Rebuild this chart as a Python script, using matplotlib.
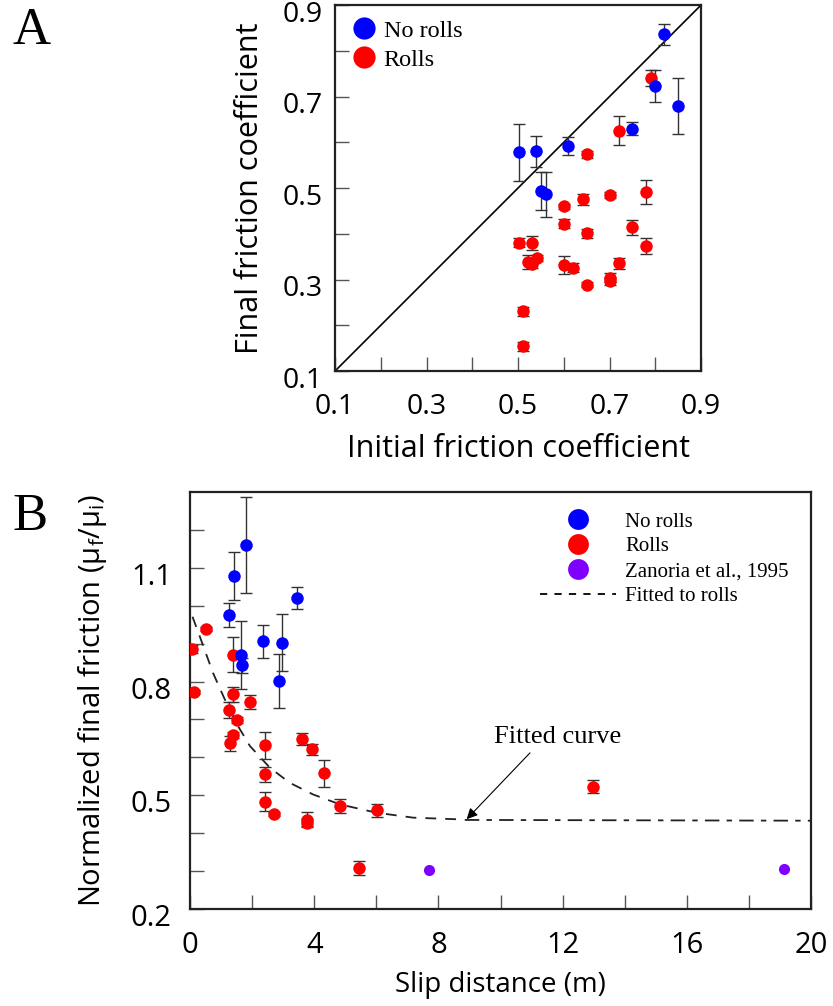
import numpy as np
import matplotlib.pyplot as plt
import matplotlib.transforms as mtransforms
from matplotlib.lines import Line2D

# ---- panel A data: initial vs final friction coefficient ----
a_norolls_x = [0.820, 0.800, 0.850, 0.750, 0.610, 0.501, 0.540, 0.550, 0.561]
a_norolls_y = [0.836, 0.723, 0.679, 0.630, 0.592, 0.578, 0.580, 0.493, 0.486]
a_norolls_err = [0.023, 0.035, 0.061, 0.015, 0.019, 0.063, 0.034, 0.042, 0.050]

a_rolls_x = [0.790, 0.720, 0.650, 0.700, 0.780, 0.641, 0.601, 0.601, 0.650, 0.750,
             0.780, 0.501, 0.531, 0.521, 0.531, 0.541, 0.601, 0.621, 0.720, 0.700,
             0.701, 0.650, 0.510, 0.510]
a_rolls_y = [0.740, 0.625, 0.574, 0.485, 0.491, 0.475, 0.460, 0.422, 0.401, 0.414,
             0.373, 0.380, 0.380, 0.339, 0.335, 0.347, 0.331, 0.326, 0.336, 0.304,
             0.296, 0.289, 0.231, 0.154]
a_rolls_err = [0.018, 0.032, 0.008, 0.006, 0.027, 0.012, 0.005, 0.010, 0.010, 0.016,
               0.018, 0.010, 0.016, 0.015, 0.010, 0.006, 0.020, 0.010, 0.012, 0.010,
               0.008, 0.005, 0.010, 0.010]

# ---- panel B data: normalized friction vs slip distance ----
b_norolls_x = [1.79, 1.42, 1.26, 1.64, 1.68, 2.34, 2.97, 2.85, 3.46]
b_norolls_y = [1.161, 1.078, 0.975, 0.871, 0.843, 0.906, 0.902, 0.801, 1.021]
b_norolls_err = [0.127, 0.064, 0.031, 0.090, 0.020, 0.044, 0.075, 0.071, 0.029]

b_rolls_x = [0.08, 0.53, 0.12, 1.37, 1.37, 1.93, 1.26, 1.50, 1.37, 1.28, 2.41, 2.41,
             2.41, 2.70, 3.62, 3.93, 4.32, 3.78, 3.78, 4.83, 6.03, 5.44, 12.98]
b_rolls_y = [0.886, 0.939, 0.772, 0.871, 0.766, 0.746, 0.725, 0.698, 0.659, 0.637,
             0.632, 0.555, 0.483, 0.450, 0.649, 0.621, 0.558, 0.436, 0.428, 0.472,
             0.461, 0.309, 0.523]
b_rolls_err = [0.010, 0.005, 0.005, 0.046, 0.020, 0.018, 0.020, 0.008, 0.008, 0.020,
               0.035, 0.020, 0.025, 0.005, 0.015, 0.015, 0.036, 0.020, 0.010, 0.018,
               0.017, 0.018, 0.018]

b_zanoria_x = [7.69, 19.13]
b_zanoria_y = [0.303, 0.306]

# fitted curve
fit_x = [0.08, 0.31, 0.74, 1.12, 1.55, 1.93, 2.57, 3.21, 3.97, 4.83, 6.01, 7.19, 8.85]
fit_y = [0.971, 0.92, 0.823, 0.753, 0.682, 0.630, 0.573, 0.533, 0.502, 0.476, 0.454, 0.441, 0.436]
fit_tail_x = [8.85, 20.0]
fit_tail_y = [0.435, 0.433]

BLUE = '#0000ff'
RED = '#ff0000'
PURPLE = '#8000ff'
SANS = ['Open Sans', 'DejaVu Sans']
SERIF = ['Liberation Serif', 'DejaVu Serif']

plt.rcParams['font.family'] = SANS
plt.rcParams['axes.linewidth'] = 1.6
plt.rcParams['axes.edgecolor'] = '#222222'

fig = plt.figure(figsize=(8.33, 10.06), dpi=100)


def style_axes(ax, size, xpad, ypad):
    ax.tick_params(which='both', direction='in', length=10, width=1.0,
                   color='#555555', labelsize=size, top=False, right=False)
    ax.tick_params(axis='x', which='both', pad=xpad)
    ax.tick_params(axis='y', which='both', pad=ypad)
    # y labels sit a little below their ticks in the original
    shift = mtransforms.ScaledTranslation(0, -0.06, fig.dpi_scale_trans)
    for lab in ax.get_yticklabels():
        lab.set_transform(lab.get_transform() + shift)


def dots(ax, x, y, err, color):
    ax.errorbar(x, y, yerr=err, fmt='o', color=color, ms=9, mec='none',
                ecolor='#333333', elinewidth=1.0, capsize=4.5, capthick=1.0, zorder=3)


# ================= panel A =================
axA = fig.add_axes([0.4022, 0.6312, 0.4394, 0.3638])
axA.plot([0.1, 0.9], [0.1, 0.9], color='black', lw=1.2, zorder=1)
dots(axA, a_rolls_x, a_rolls_y, a_rolls_err, RED)
dots(axA, a_norolls_x, a_norolls_y, a_norolls_err, BLUE)
axA.set_xlim(0.1, 0.9)
axA.set_ylim(0.1, 0.9)
axA.set_xticks(np.arange(0.1, 0.91, 0.2))
axA.set_yticks(np.arange(0.1, 0.91, 0.2))
axA.set_xticks(np.arange(0.2, 0.9, 0.2), minor=True)
axA.set_yticks(np.arange(0.2, 0.9, 0.2), minor=True)
axA.set_xticklabels(['0.1', '0.3', '0.5', '0.7', '0.9'])
axA.set_yticklabels(['0.1', '0.3', '0.5', '0.7', '0.9'])
style_axes(axA, 20.5, 16, 8.5)
axA.set_xlabel('Initial friction coefficient', fontsize=22, labelpad=9)
axA.set_ylabel('Final friction coefficient', fontsize=22, labelpad=13)

handlesA = [Line2D([], [], marker='o', ls='none', color=BLUE, ms=16, mec='none'),
            Line2D([], [], marker='o', ls='none', color=RED, ms=16, mec='none')]
axA.legend(handlesA, ['No rolls', 'Rolls'], loc='upper left', frameon=False,
           prop={'family': SERIF, 'size': 17.5}, handletextpad=0.2, labelspacing=0.3,
           borderaxespad=0.2, handlelength=1.2)

fig.text(0.038, 0.969, 'A', family=SERIF, fontsize=38, ha='center', va='center')

# ================= panel B =================
axB = fig.add_axes([0.2281, 0.0964, 0.7455, 0.4145])
axB.plot(fit_x, fit_y, color='#222222', lw=1.3, ls=(0, (6, 5)), zorder=2)
axB.plot(fit_tail_x, fit_tail_y, color='#222222', lw=1.3, ls=(0, (8, 4, 3, 4)), zorder=2)
dots(axB, b_rolls_x, b_rolls_y, b_rolls_err, RED)
dots(axB, b_norolls_x, b_norolls_y, b_norolls_err, BLUE)
axB.plot(b_zanoria_x, b_zanoria_y, 'o', color=PURPLE, ms=8, mec='none', zorder=3)
axB.set_xlim(0, 20)
axB.set_ylim(0.2, 1.3)
axB.set_xticks([0, 4, 8, 12, 16, 20])
axB.set_xticks(np.arange(2, 20, 4), minor=True)
axB.set_yticks([0.2, 0.5, 0.8, 1.1])
axB.set_yticks([0.3, 0.4, 0.6, 0.7, 0.9, 1.0, 1.2], minor=True)
axB.set_yticklabels(['0.2', '0.5', '0.8', '1.1'])
style_axes(axB, 21, 16, 13)
axB.set_xlabel('Slip distance (m)', fontsize=20, labelpad=8)
axB.set_ylabel('Normalized final friction (μ$_\\mathregular{f}$/μ$_\\mathregular{i}$)',
               fontsize=21, labelpad=16)

# label and arrow pointing at the flat end of the fit
axB.text(11.85, 0.654, 'Fitted curve', fontsize=19, family=SERIF, ha='center', va='center')
axB.annotate('', xy=(8.91, 0.437), xytext=(10.95, 0.612),
             arrowprops=dict(arrowstyle='-|>', color='black', lw=0.8,
                             shrinkA=0, shrinkB=0, mutation_scale=16))

handlesB = [Line2D([], [], marker='o', ls='none', color=BLUE, ms=15, mec='none'),
            Line2D([], [], marker='o', ls='none', color=RED, ms=15, mec='none'),
            Line2D([], [], marker='o', ls='none', color=PURPLE, ms=15, mec='none'),
            Line2D([], [], ls=(0, (4, 4)), color='black', lw=1.3)]
axB.legend(handlesB, ['No rolls', 'Rolls', 'Zanoria et al., 1995', 'Fitted to rolls'],
           loc='upper left', frameon=False, prop={'family': SERIF, 'size': 15},
           handletextpad=0.43, labelspacing=0.25, handlelength=3.65,
           borderpad=0, borderaxespad=0, bbox_to_anchor=(0.5636, 0.952))

fig.text(0.036, 0.486, 'B', family=SERIF, fontsize=38, ha='center', va='center')

plt.savefig('out.png', dpi=100)
